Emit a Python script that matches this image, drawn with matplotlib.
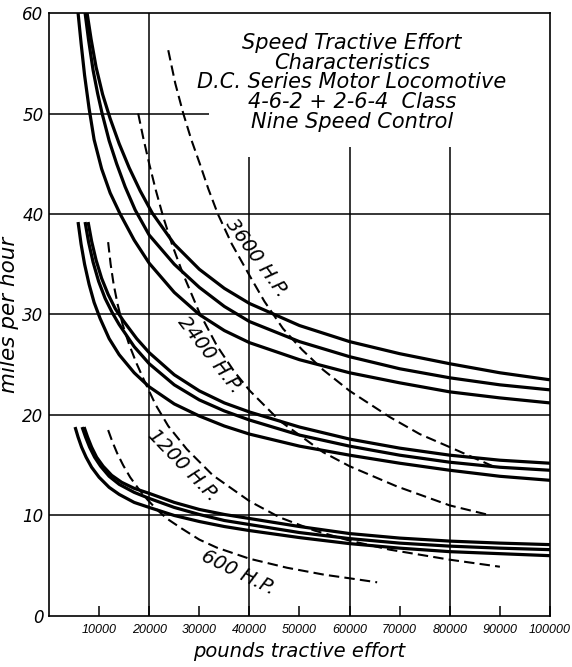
import matplotlib.pyplot as plt
import numpy as np

# solid speed curves, three groups of three
a1_x = [5800, 6400, 7100, 8000, 9000, 10500, 12200, 14200, 17000, 20000, 25000, 30000, 35000, 40000,
        50000, 60000, 70000, 80000, 90000, 100000]
a1_y = [60, 57, 53.8, 50.5, 47.4, 44.5, 42.1, 40.0, 37.4, 35.1, 32.2, 30.0, 28.4, 27.2,
        25.5, 24.2, 23.2, 22.3, 21.7, 21.2]
a2_x = [7200, 7900, 8800, 9700, 10600, 12000, 13500, 15200, 17200, 20000, 25000, 30000, 35000, 40000,
        50000, 60000, 70000, 80000, 90000, 100000]
a2_y = [60, 57.3, 54.3, 52.0, 50.0, 47.3, 45.0, 42.7, 40.4, 37.9, 35.0, 32.7, 30.8, 29.3,
        27.3, 25.8, 24.6, 23.7, 23.0, 22.5]
a3_x = [7600, 8400, 9400, 10700, 12200, 14000, 16000, 18200, 20600, 25000, 30000, 35000, 40000,
        50000, 60000, 70000, 80000, 90000, 100000]
a3_y = [60, 57.4, 54.6, 51.9, 49.5, 47.0, 44.6, 42.3, 40.1, 37.0, 34.5, 32.6, 31.1,
        28.9, 27.3, 26.1, 25.1, 24.2, 23.5]

b1_x = [5800, 6400, 7100, 8000, 9000, 10200, 12000, 14000, 17000, 20000, 25000, 30000, 35000, 40000,
        50000, 60000, 70000, 80000, 90000, 100000]
b1_y = [39.2, 37.0, 35.0, 33.0, 31.2, 29.6, 27.6, 26.0, 24.2, 22.8, 21.1, 19.9, 18.9, 18.1,
        16.9, 16.0, 15.2, 14.5, 13.9, 13.5]
b2_x = [7200, 7900, 8800, 9900, 11200, 12600, 14000, 17000, 20000, 25000, 30000, 35000, 40000,
        50000, 60000, 70000, 80000, 90000, 100000]
b2_y = [39.2, 37.2, 35.2, 33.3, 31.6, 30.2, 29.0, 26.8, 25.1, 23.0, 21.5, 20.4, 19.5,
        18.0, 16.9, 16.0, 15.3, 14.8, 14.5]
b3_x = [7800, 8500, 9400, 10500, 11800, 13200, 14800, 17500, 20000, 25000, 30000, 35000, 40000,
        50000, 60000, 70000, 80000, 90000, 100000]
b3_y = [39.2, 37.3, 35.4, 33.6, 32.0, 30.6, 29.4, 27.6, 26.2, 24.0, 22.4, 21.2, 20.3,
        18.8, 17.6, 16.7, 16.0, 15.5, 15.2]

c1_x = [5200, 5800, 6500, 7400, 8500, 10000, 12000, 14000, 17000, 20000, 25000, 30000, 35000, 40000,
        50000, 60000, 70000, 80000, 90000, 100000]
c1_y = [18.8, 17.8, 16.8, 15.8, 14.8, 13.8, 12.8, 12.1, 11.3, 10.8, 10.0, 9.4, 8.9, 8.5,
        7.8, 7.2, 6.75, 6.4, 6.2, 6.0]
c2_x = [6600, 7300, 8100, 9100, 10300, 12000, 14000, 17000, 20000, 25000, 30000, 35000, 40000,
        50000, 60000, 70000, 80000, 90000, 100000]
c2_y = [18.8, 17.8, 16.8, 15.8, 14.9, 13.9, 13.1, 12.3, 11.7, 10.8, 10.1, 9.5, 9.1,
        8.3, 7.7, 7.25, 6.95, 6.75, 6.6]
c3_x = [7000, 7700, 8500, 9500, 10800, 12500, 14500, 17000, 20000, 25000, 30000, 35000, 40000,
        50000, 60000, 70000, 80000, 90000, 100000]
c3_y = [18.8, 17.8, 16.8, 15.8, 14.9, 14.0, 13.3, 12.7, 12.2, 11.3, 10.6, 10.1, 9.7,
        8.9, 8.2, 7.75, 7.45, 7.25, 7.1]

# dashed constant horsepower curves
hp3600_x = [23800, 25200, 26800, 28400, 30100, 31800, 33700, 36500, 40000, 43000, 46700, 50500,
            54700, 60000, 68000, 74000, 80000, 88600]
hp3600_y = [56.3, 53.0, 50.0, 47.4, 45.0, 42.5, 40.0, 37.0, 33.9, 31.3, 28.6, 26.5,
            24.5, 22.4, 19.8, 18.1, 16.8, 14.9]
hp2400_x = [17800, 18800, 20000, 21300, 22800, 24600, 26700, 30000, 33500, 37000, 40100, 46100,
            54700, 60000, 69400, 80000, 87400]
hp2400_y = [50, 47.6, 45.0, 42.4, 39.7, 36.9, 34.1, 30.2, 26.9, 24.3, 22.4, 19.4,
            16.3, 14.9, 12.9, 11.0, 10.1]
hp1200_x = [11800, 12300, 12900, 13700, 14700, 16000, 17500, 19300, 21300, 23800, 27500, 32700,
            40100, 46100, 53000, 60000, 68000, 80000, 90000]
hp1200_y = [37.2, 35.0, 33.0, 31.0, 29.0, 27.0, 25.1, 23.1, 21.0, 18.9, 16.6, 14.0,
            11.4, 9.8, 8.5, 7.5, 6.6, 5.6, 4.9]
hp600_x = [11800, 12600, 13600, 14800, 16200, 17800, 19600, 21500, 23500, 26500, 30000, 33500,
           40000, 47500, 55000, 60000, 65500]
hp600_y = [18.5, 17.4, 16.2, 15.0, 13.8, 12.7, 11.6, 10.6, 9.7, 8.7, 7.6, 6.8,
           5.7, 4.8, 4.1, 3.75, 3.35]

hp_labels = ["3600 H.P.", "2400 H.P.", "1200 H.P.", "600 H.P."]
title_lines = ["Speed Tractive Effort", "Characteristics", "D.C. Series Motor Locomotive",
               "4-6-2 + 2-6-4  Class", "Nine Speed Control"]
xticks = [10000, 20000, 30000, 40000, 50000, 60000, 70000, 80000, 90000, 100000]
yticks = [0, 10, 20, 30, 40, 50, 60]

plt.rcParams['font.family'] = ['DejaVu Sans']

fig = plt.figure(figsize=(5.72, 6.67), dpi=100)
ax = fig.add_axes([0.0857, 0.0765, 0.8758, 0.904])
ax.set_xlim(0, 100000)
ax.set_ylim(0, 60)

# partial grid, as drawn on the original sheet
ax.hlines([10, 20, 30, 40], 0, 100000, color='black', lw=1.1)
ax.hlines([50], 0, 32000, color='black', lw=1.1)
ax.vlines([20000], 0, 60, color='black', lw=1.1)
ax.vlines([40000], 0, 45.7, color='black', lw=1.1)
ax.vlines([60000, 80000], 0, 46.7, color='black', lw=1.1)

solid = [(a1_x, a1_y), (a2_x, a2_y), (a3_x, a3_y),
         (b1_x, b1_y), (b2_x, b2_y), (b3_x, b3_y),
         (c1_x, c1_y), (c2_x, c2_y), (c3_x, c3_y)]
for xs, ys in solid:
    ax.plot(xs, ys, color='black', lw=2.3, solid_capstyle='butt', solid_joinstyle='round')

dashed = [(hp3600_x, hp3600_y), (hp2400_x, hp2400_y), (hp1200_x, hp1200_y), (hp600_x, hp600_y)]
for xs, ys in dashed:
    ax.plot(xs, ys, color='black', lw=1.5, linestyle=(0, (5, 2.5)))

label_pos = [(41500, 35.6, -54), (32100, 26.0, -52), (26700, 15.0, -46), (37700, 4.3, -26)]
for txt, (lx, ly, rot) in zip(hp_labels, label_pos):
    ax.text(lx, ly, txt, rotation=rot, rotation_mode='anchor', ha='center', va='center',
            fontsize=14, style='italic')

ax.text(60500, 53.1, "\n".join(title_lines), ha='center', va='center', fontsize=15,
        style='italic', linespacing=0.98, multialignment='center')

ax.set_xticks(xticks)
ax.set_xticklabels([str(t) for t in xticks], fontsize=9, style='italic',
                   family=['Liberation Sans', 'DejaVu Sans'])
ax.set_yticks(yticks)
ax.set_yticklabels([str(t) for t in yticks], fontsize=12, style='italic')
ax.tick_params(axis='x', direction='in', length=7, width=1.1, pad=6)
ax.tick_params(axis='y', length=0, pad=4)
for s in ax.spines.values():
    s.set_linewidth(1.2)

ax.set_xlabel("pounds tractive effort", fontsize=14, style='italic', labelpad=4)
ax.set_ylabel("miles per hour", fontsize=15.5, style='italic', labelpad=2)

fig.savefig("out.png", dpi=100)
